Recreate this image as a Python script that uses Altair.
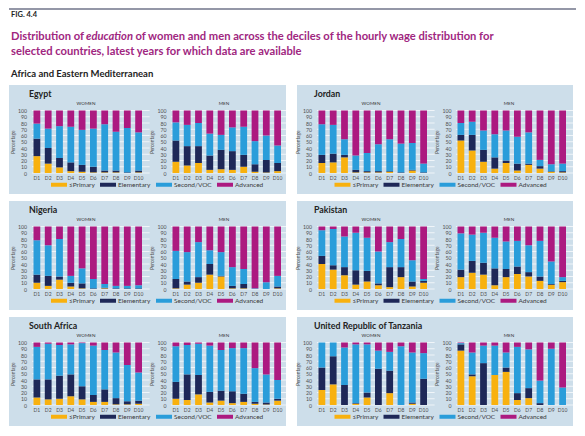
import altair as alt
import pandas as pd

DECILES = ["D1", "D2", "D3", "D4", "D5", "D6", "D7", "D8", "D9", "D10"]
LEVELS = ["≤Primary", "Elementary", "Second/VOC", "Advanced"]
LEVEL_COLORS = ["#F8B10F", "#1E2858", "#2A9DDA", "#AC1A80"]
Y_TICKS = [0, 10, 20, 30, 40, 50, 60, 70, 80, 90, 100]
COUNTRIES = ["Egypt", "Jordan", "Nigeria", "Pakistan", "South Africa",
             "United Republic of Tanzania"]

FIG_LABEL = "FIG. 4.4"
TITLE_1A = "Distribution of "
TITLE_1B = "education"
TITLE_1C = "of women and men across the deciles of the hourly wage distribution for"
TITLE_2 = "selected countries, latest years for which data are available"
REGION = "Africa and Eastern Mediterranean"

# shares (%) by education level, deciles D1..D10
EGYPT_WOMEN = {
    "≤Primary": [27, 15, 9, 3, 2, 1, 1, 1, 0, 1],
    "Elementary": [28, 25, 15, 14, 11, 9, 3, 3, 1, 3],
    "Second/VOC": [24, 31, 51, 57, 56, 61, 74, 62, 71, 61],
    "Advanced": [21, 29, 25, 26, 31, 29, 22, 34, 28, 35],
}
EGYPT_MEN = {
    "≤Primary": [18, 12, 16, 5, 6, 5, 10, 2, 1, 3],
    "Elementary": [34, 31, 27, 23, 31, 30, 19, 12, 20, 13],
    "Second/VOC": [29, 34, 37, 35, 24, 38, 45, 37, 39, 28],
    "Advanced": [19, 23, 20, 37, 39, 27, 26, 49, 40, 56],
}
JORDAN_WOMEN = {
    "≤Primary": [16, 17, 25, 1, 1, 1, 2, 0, 4, 0],
    "Elementary": [13, 14, 4, 4, 2, 2, 1, 1, 1, 1],
    "Second/VOC": [49, 46, 25, 23, 29, 43, 51, 46, 43, 14],
    "Advanced": [22, 23, 46, 72, 68, 54, 46, 53, 52, 85],
}
JORDAN_MEN = {
    "≤Primary": [52, 36, 18, 7, 16, 4, 13, 7, 2, 1],
    "Elementary": [9, 25, 19, 18, 4, 11, 2, 4, 1, 2],
    "Second/VOC": [19, 21, 31, 37, 48, 43, 50, 10, 11, 12],
    "Advanced": [20, 18, 32, 38, 32, 42, 35, 79, 86, 85],
}
NIGERIA_WOMEN = {
    "≤Primary": [10, 5, 15, 4, 1, 0, 1, 0, 0, 0],
    "Elementary": [13, 16, 5, 6, 8, 1, 1, 1, 1, 1],
    "Second/VOC": [55, 49, 60, 11, 24, 15, 6, 4, 4, 5],
    "Advanced": [22, 30, 20, 79, 67, 84, 92, 95, 95, 94],
}
NIGERIA_MEN = {
    "≤Primary": [1, 7, 10, 23, 20, 1, 1, 0, 0, 1],
    "Elementary": [15, 5, 9, 17, 1, 4, 7, 0, 0, 3],
    "Second/VOC": [45, 47, 56, 22, 38, 30, 24, 1, 11, 17],
    "Advanced": [39, 41, 25, 38, 41, 65, 68, 99, 89, 79],
}
PAKISTAN_WOMEN = {
    "≤Primary": [40, 31, 22, 7, 12, 6, 3, 19, 4, 10],
    "Elementary": [13, 7, 13, 23, 17, 3, 32, 16, 8, 3],
    "Second/VOC": [41, 58, 49, 60, 53, 51, 40, 45, 34, 3],
    "Advanced": [6, 4, 16, 10, 18, 40, 25, 20, 54, 84],
}
PAKISTAN_MEN = {
    "≤Primary": [19, 26, 23, 6, 19, 24, 20, 13, 7, 11],
    "Elementary": [12, 19, 19, 27, 13, 12, 7, 7, 1, 2],
    "Second/VOC": [58, 42, 48, 49, 44, 41, 43, 57, 36, 6],
    "Advanced": [11, 13, 10, 18, 24, 23, 30, 23, 56, 81],
}
SOUTH_AFRICA_WOMEN = {
    "≤Primary": [12, 9, 10, 14, 9, 5, 5, 1, 1, 2],
    "Elementary": [29, 32, 37, 35, 21, 11, 20, 10, 5, 5],
    "Second/VOC": [52, 57, 49, 48, 69, 79, 63, 73, 58, 45],
    "Advanced": [7, 2, 4, 3, 1, 5, 12, 16, 36, 48],
}
SOUTH_AFRICA_MEN = {
    "≤Primary": [10, 8, 17, 4, 7, 3, 5, 2, 1, 7],
    "Elementary": [27, 41, 31, 17, 16, 19, 13, 3, 3, 3],
    "Second/VOC": [57, 47, 50, 74, 65, 69, 73, 54, 45, 30],
    "Advanced": [6, 4, 2, 5, 12, 9, 9, 41, 51, 60],
}
TANZANIA_WOMEN = {
    "≤Primary": [24, 33, 0, 2, 12, 0, 19, 0, 2, 0],
    "Elementary": [36, 45, 32, 1, 8, 58, 36, 0, 2, 42],
    "Second/VOC": [40, 22, 60, 94, 77, 29, 30, 94, 80, 41],
    "Advanced": [0, 0, 8, 3, 3, 13, 15, 6, 16, 17],
}
TANZANIA_MEN = {
    "≤Primary": [87, 46, 0, 48, 53, 8, 11, 0, 0, 0],
    "Elementary": [10, 3, 67, 0, 7, 11, 16, 3, 0, 0],
    "Second/VOC": [2, 35, 28, 47, 24, 74, 62, 36, 90, 28],
    "Advanced": [1, 16, 5, 5, 16, 7, 11, 61, 10, 72],
}

DATA = {
    "Egypt": (EGYPT_WOMEN, EGYPT_MEN),
    "Jordan": (JORDAN_WOMEN, JORDAN_MEN),
    "Nigeria": (NIGERIA_WOMEN, NIGERIA_MEN),
    "Pakistan": (PAKISTAN_WOMEN, PAKISTAN_MEN),
    "South Africa": (SOUTH_AFRICA_WOMEN, SOUTH_AFRICA_MEN),
    "United Republic of Tanzania": (TANZANIA_WOMEN, TANZANIA_MEN),
}

FONT = "Lato, sans-serif"
BG = "#CDDEEA"
PURPLE = "#A0267F"
LABEL_GREY = "#505050"
PANEL_H = 109
Y_RANGE = [88, 25.5]
SYMBOL = "M-1,-0.25H1V0.25H-1Z"

CSCALE = alt.Scale(domain=LEVELS, range=LEVEL_COLORS)


def long_df(d):
    rows = []
    for li, lvl in enumerate(LEVELS):
        for di, dec in enumerate(DECILES):
            rows.append({"decile": dec, "level": lvl, "lvl": li, "value": d[lvl][di]})
    return pd.DataFrame(rows)


def text_layer(txt, x, y, size, weight="normal", color="#222222", align="left",
               baseline="alphabetic", style="normal"):
    return alt.Chart(pd.DataFrame({"t": [txt]})).mark_text(
        align=align, baseline=baseline, fontSize=size, fontWeight=weight,
        color=color, font=FONT, fontStyle=style
    ).encode(text="t:N", x=alt.value(x), y=alt.value(y))


def sub(d, x0, x1, axis_x, legend):
    xs = alt.Scale(domain=DECILES, range=[x0, x1], paddingInner=0.4, paddingOuter=0)
    ys = alt.Scale(domain=[0, 100], range=Y_RANGE, nice=False)
    xaxis = alt.Axis(orient="bottom", offset=Y_RANGE[0] - PANEL_H, domain=False,
                     ticks=False, grid=False, labelAngle=0, labelFontSize=5,
                     labelColor=LABEL_GREY, labelPadding=2.5, labelFont=FONT,
                     labelOverlap=False, title=None)
    yaxis = alt.Axis(orient="left", offset=-axis_x, values=Y_TICKS, domain=False,
                     ticks=False, grid=False, labelFontSize=5.2, labelColor=LABEL_GREY,
                     labelPadding=1.5, labelFont=FONT, labelOverlap=False,
                     title="Percentage", titleFontSize=4.8, titleFontWeight="normal",
                     titleColor=LABEL_GREY, titlePadding=2, titleFont=FONT)
    grid = alt.Chart(pd.DataFrame({"tick": Y_TICKS})).mark_rule(
        color="white", strokeWidth=0.7, xOffset=-5, x2Offset=11
    ).encode(
        x=alt.X(datum="D1", type="nominal", scale=xs, axis=xaxis),
        x2=alt.X2(datum="D10"),
        y=alt.Y("tick:Q", scale=ys, axis=yaxis),
    )
    bars = alt.Chart(long_df(d)).mark_bar(strokeWidth=0).encode(
        x=alt.X("decile:N", scale=xs, sort=DECILES, axis=xaxis),
        y=alt.Y("value:Q", stack="zero", scale=ys, axis=yaxis),
        color=alt.Color("level:N", scale=CSCALE, sort=LEVELS, legend=legend),
        order=alt.Order("lvl:Q", sort="ascending"),
    )
    return alt.layer(grid, bars)


def panel(country, col):
    dx = 0 if col == 0 else -3
    width = 277 if col == 0 else 276
    legend = alt.Legend(orient="none", legendX=42 + dx * 1.5, legendY=91.5,
                        direction="horizontal", columns=4, title=None,
                        symbolType=SYMBOL, symbolSize=256, symbolStrokeWidth=0,
                        symbolOpacity=1, labelFontSize=6.5, labelColor="#3a3a3a",
                        labelFont=FONT, columnPadding=5, labelOffset=2)
    w_data, m_data = DATA[country]
    women = sub(w_data, 24.5 + dx, 133 + dx, 19 + dx, legend)
    men = sub(m_data, 163.5 + dx, 272 + dx, 158.5 + dx, legend)
    name = text_layer(country, 20 + dx, 12, 8.8, weight="bold")
    wl = text_layer("WOMEN", 77 + dx, 19, 4.6, color="#333333", align="center",
                    baseline="middle")
    ml = text_layer("MEN", 215 + dx, 19, 4.6, color="#333333", align="center",
                    baseline="middle")
    return alt.layer(women, men, name, wl, ml).resolve_scale(
        x="independent", y="independent"
    ).properties(width=width, height=PANEL_H,
                 view=alt.ViewBackground(fill=BG, stroke=None))


panels = [panel(c, i % 2) for i, c in enumerate(COUNTRIES)]
grid_chart = alt.concat(*panels, columns=2, spacing={"row": 7, "column": 6}).resolve_scale(
    color="independent").resolve_legend(color="independent")

top_rule = alt.Chart(pd.DataFrame({"t": [0]})).mark_rule(
    color="#2B3050", strokeWidth=1.2
).encode(x=alt.value(0), x2=alt.value(567), y=alt.value(1))

T = 11.2
header = alt.layer(
    top_rule,
    text_layer(FIG_LABEL, 2, 9, 7.5, weight="bold"),
    text_layer(TITLE_1A, 2, 32, T, weight="bold", color=PURPLE),
    text_layer(TITLE_1B, 77, 32, T, weight="bold", color=PURPLE, style="italic"),
    text_layer(TITLE_1C, 126.5, 32, T, weight="bold", color=PURPLE),
    text_layer(TITLE_2, 2, 47, T, weight="bold", color=PURPLE),
    text_layer(REGION, 2, 69, 9.5, weight="bold"),
).properties(width=559, height=72, view=alt.ViewBackground(stroke=None))

chart = alt.vconcat(header, grid_chart, spacing=5).resolve_scale(
    color="independent"
).properties(padding=0, background="white").configure_view(stroke=None)

chart.save("out.html", embed_options={"renderer": "svg", "actions": False})
